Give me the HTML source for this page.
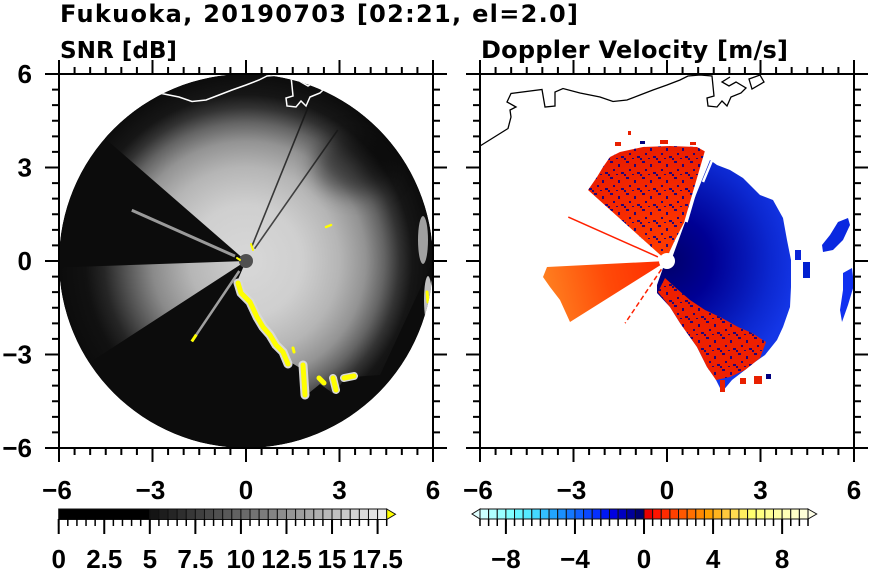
<!DOCTYPE html>
<html><head><meta charset="utf-8"><style>
html,body{margin:0;padding:0;background:#fff;}
svg{display:block;}
text{font-family:"Liberation Sans","DejaVu Sans",sans-serif;font-weight:bold;fill:#000;}
text.t{font-family:"DejaVu Sans","Liberation Sans",sans-serif;}
</style></head><body>
<svg width="870" height="570" viewBox="0 0 870 570" xmlns="http://www.w3.org/2000/svg">
<defs>
<clipPath id="cl"><circle cx="246" cy="261" r="187"/></clipPath>
<clipPath id="cr"><rect x="480" y="74" width="374" height="374"/></clipPath>
<radialGradient id="gb" gradientUnits="userSpaceOnUse" cx="246" cy="261" r="187">
<stop offset="0" stop-color="#d8d8d8"/>
<stop offset="0.3" stop-color="#cfcfcf"/>
<stop offset="0.5" stop-color="#b5b5b5"/>
<stop offset="0.64" stop-color="#939393"/>
<stop offset="0.74" stop-color="#646464"/>
<stop offset="0.82" stop-color="#333"/>
<stop offset="0.89" stop-color="#161616"/>
<stop offset="1" stop-color="#0c0c0c"/>
</radialGradient>
<radialGradient id="gw" gradientUnits="userSpaceOnUse" cx="246" cy="261" r="187">
<stop offset="0" stop-color="#d0d0d0"/>
<stop offset="0.3" stop-color="#b6b6b6"/>
<stop offset="0.5" stop-color="#8a8a8a"/>
<stop offset="0.64" stop-color="#555"/>
<stop offset="0.76" stop-color="#262626"/>
<stop offset="0.86" stop-color="#111"/>
<stop offset="1" stop-color="#0c0c0c"/>
</radialGradient>
<radialGradient id="gblue" gradientUnits="userSpaceOnUse" cx="667" cy="261" r="130">
<stop offset="0" stop-color="#00006a"/>
<stop offset="0.35" stop-color="#000094"/>
<stop offset="0.6" stop-color="#0616b4"/>
<stop offset="0.8" stop-color="#0c28d0"/>
<stop offset="1" stop-color="#1436e6"/>
</radialGradient>
<radialGradient id="gred" gradientUnits="userSpaceOnUse" cx="667" cy="261" r="120">
<stop offset="0" stop-color="#ff4000"/>
<stop offset="0.5" stop-color="#f82c00"/>
<stop offset="1" stop-color="#e81c00"/>
</radialGradient>
<linearGradient id="gor" gradientUnits="userSpaceOnUse" x1="667" y1="261" x2="545" y2="290">
<stop offset="0" stop-color="#ff2a00"/>
<stop offset="0.5" stop-color="#ff4a08"/>
<stop offset="1" stop-color="#ff8020"/>
</linearGradient>
<pattern id="sp" width="16" height="16" patternUnits="userSpaceOnUse">
<rect x="2" y="1" width="3" height="2" fill="#00008a"/>
<rect x="10" y="4" width="2" height="3" fill="#00008a"/>
<rect x="5" y="9" width="2" height="2" fill="#00008a"/>
<rect x="13" y="12" width="3" height="2" fill="#00008a"/>
<rect x="0" y="14" width="2" height="2" fill="#00008a"/>
<rect x="8" y="14" width="2" height="1" fill="#00008a"/>
</pattern>
<filter id="bl" x="-50%" y="-50%" width="200%" height="200%"><feGaussianBlur stdDeviation="10"/></filter>
</defs>

<rect width="870" height="570" fill="#fff"/>

<!-- Titles -->
<text class="t" x="60" y="22" font-size="24" textLength="518" lengthAdjust="spacing">Fukuoka, 20190703 [02:21, el=2.0]</text>
<text class="t" x="60" y="58" font-size="23" textLength="117" lengthAdjust="spacingAndGlyphs">SNR [dB]</text>
<text class="t" x="481" y="58" font-size="24" textLength="307" lengthAdjust="spacing">Doppler Velocity [m/s]</text>

<!-- LEFT PLOT DATA -->
<g clip-path="url(#cl)">
<circle cx="246" cy="261" r="187" fill="#0c0c0c"/>
<path d="M246,261 L236,284 L240,293 L250,302 L257,317 L263,327 L270,335 L280,350 L287,360 L300,368 L304,397 L320,384 L334,394 L345,378 L365,376 L380,375 L433,261 A187,187 0 0 0 104.9,138.3 Z" fill="url(#gb)"/>
<path d="M246,261 L59.1,267.5 A187,187 0 0 0 89.2,362.8 Z" fill="url(#gw)"/>
<ellipse cx="355" cy="165" rx="40" ry="30" fill="#000" opacity="0.45" filter="url(#bl)"/>
<ellipse cx="423" cy="240" rx="5" ry="24" fill="#a0a0a0"/>
<ellipse cx="428" cy="300" rx="4" ry="24" fill="#c0c0c0"/>
<line x1="251.6" y1="247.1" x2="313.4" y2="94.1" stroke="#151515" stroke-width="1.6" opacity="0.8"/>
<line x1="254.6" y1="248.7" x2="337.8" y2="129.9" stroke="#151515" stroke-width="1.6" opacity="0.75"/>
<line x1="235" y1="256.1" x2="131.8" y2="210.2" stroke="#9a9a9a" stroke-width="3"/>
<line x1="239.3" y1="271" x2="191.8" y2="341.4" stroke="#a0a0a0" stroke-width="2.5"/>
<line x1="196.3" y1="334.7" x2="191.8" y2="341.4" stroke="#ffff00" stroke-width="3"/>
<circle cx="246" cy="261" r="7" fill="#505050"/>
<g fill="none" stroke-linecap="round" stroke-linejoin="round">
<polyline points="238,283 241,293 250,302 257,317 263,327 270,335 276,345 283,352 288,364" stroke="#d8d8d8" stroke-width="9"/>
<polyline points="238,283 241,293 250,302 257,317 263,327 270,335 276,345 283,352 288,364" stroke="#ffff00" stroke-width="5"/>
<line x1="303" y1="365" x2="305" y2="395" stroke="#d8d8d8" stroke-width="9"/>
<line x1="303" y1="365" x2="305" y2="395" stroke="#ffff00" stroke-width="5"/>
<line x1="333" y1="378" x2="336" y2="390" stroke="#d8d8d8" stroke-width="8"/>
<line x1="333" y1="378" x2="336" y2="390" stroke="#ffff00" stroke-width="5"/>
<line x1="344" y1="378" x2="354" y2="376" stroke="#d8d8d8" stroke-width="8"/>
<line x1="344" y1="378" x2="354" y2="376" stroke="#ffff00" stroke-width="5"/>
<line x1="319" y1="378" x2="324" y2="383" stroke="#ffff00" stroke-width="5"/>
<line x1="293" y1="348" x2="294" y2="352" stroke="#ffff00" stroke-width="3"/>
<line x1="326" y1="227" x2="331" y2="225" stroke="#ffff00" stroke-width="2.5"/>
<line x1="427" y1="292" x2="428" y2="302" stroke="#ffff00" stroke-width="3"/>
<line x1="251" y1="244" x2="253" y2="250" stroke="#ffff00" stroke-width="2"/>
<line x1="237" y1="258" x2="240" y2="260" stroke="#ffff00" stroke-width="2"/>
</g>
</g>
<!-- left coastline (white) -->
<g clip-path="url(#cl)" fill="none" stroke="#fff" stroke-width="1.5">
<path d="M59,146 L87,128.5 L90,117 L89,110 L95,107 L86,102 L90,93.5 L121,89.5 L124,107 L134,106 L134,92 L142,88.5 L159,93 L179,97 L192,101.5 L206,100 L219,95 L232,90 L246,85 L259,80 L267,76 L279,75 L291,76 L293,96 L286,98 L287,106 L296,107 L301,101 L306,106 L310,97 L320,93 L325,88 L315,82 L308,86 L301,82 L309,77"/>
<path d="M328,79 L339,75 L343,82 L331,89 Z"/>
</g>

<!-- RIGHT PLOT DATA -->
<g clip-path="url(#cr)">
<path d="M672,258 L687,217 L710,160 L717,165 L730,170 L743,178 L760,195 L773,200 L783,218 L787,240 L791,260 L791,287 L790,307 L783,327 L777,340 L765,355 L755,362 L745,370 L732,380 L722,392 L715,378 L707,367 L697,347 L680,323 L670,307 L657,293 L657,285 L663,268 Z" fill="url(#gblue)"/>
<path d="M667,261 L588,190 L597,177 L603,167 L610,157 L620,152 L643,147 L670,146 L697,147 L706,152 L687,217 L675,240 L668,255 Z" fill="url(#gred)"/>
<path d="M667,261 L588,190 L597,177 L603,167 L610,157 L620,152 L643,147 L670,146 L697,147 L706,152 L687,217 L675,240 L668,255 Z" fill="url(#sp)" opacity="0.85"/>
<path d="M658,292 L670,307 L680,323 L697,347 L707,367 L716,380 L730,377 L745,370 L760,358 L766,342 L752,333 L738,327 L722,318 L705,310 L690,300 L676,288 L665,278 Z" fill="#ee2000"/>
<path d="M658,292 L670,307 L680,323 L697,347 L707,367 L716,380 L730,377 L745,370 L760,358 L766,342 L752,333 L738,327 L722,318 L705,310 L690,300 L676,288 L665,278 Z" fill="url(#sp)" opacity="0.85"/>
<path d="M667,261 L547,267 L543,277 L550,287 L560,300 L570,322 Z" fill="url(#gor)"/>
<line x1="657.9" y1="256.9" x2="568.3" y2="217.1" stroke="#ff2000" stroke-width="1.5"/>
<line x1="661.4" y1="269.3" x2="625.1" y2="323.2" stroke="#ff2000" stroke-width="1.5" stroke-dasharray="5 3"/>
<line x1="686" y1="222" x2="707" y2="150" stroke="#fff" stroke-width="3.5"/>
<line x1="703" y1="182" x2="713" y2="158" stroke="#fff" stroke-width="2.5"/>
<rect x="720" y="380" width="5" height="12" fill="#e82000"/>
<rect x="740" y="378" width="6" height="6" fill="#e82000"/>
<rect x="754" y="376" width="8" height="8" fill="#e82000"/>
<rect x="766" y="374" width="5" height="5" fill="#000080"/>
<rect x="615" y="142" width="6" height="4" fill="#e82000"/>
<rect x="640" y="141" width="5" height="3" fill="#000080"/>
<rect x="660" y="140" width="8" height="4" fill="#e82000"/>
<rect x="690" y="142" width="6" height="3" fill="#e82000"/>
<rect x="628" y="131" width="3" height="4" fill="#e82000"/>
<path d="M822,245 L830,235 L838,222 L848,218 L850,225 L843,240 L833,250 L823,252 Z" fill="#0a28e0"/>
<path d="M843,273 L852,268 L854,285 L848,305 L842,322 L840,310 L843,290 Z" fill="#1030f0"/>
<rect x="803" y="262" width="7" height="16" fill="#0020d0"/>
<rect x="795" y="250" width="6" height="10" fill="#0a24d8"/>
<circle cx="667" cy="261" r="8" fill="#fff"/>
</g>
<!-- right coastline -->
<g fill="none" stroke="#000" stroke-width="1.3">
<path d="M480,146 L508,128.5 L511,117 L510,110 L516,107 L507,102 L511,93.5 L542,89.5 L545,107 L555,106 L555,92 L563,88.5 L580,93 L600,97 L613,101.5 L627,100 L640,95 L653,90 L667,85 L680,80 L688,76 L700,75 L712,76 L714,96 L707,98 L708,106 L717,107 L722,101 L727,106 L731,97 L741,93 L746,88 L736,82 L729,86 L722,82 L730,77"/>
<path d="M749,79 L760,75 L764,82 L752,89 Z"/>
</g>

<!-- AXES LEFT -->
<g stroke="#000" fill="none">
<rect x="59" y="74" width="374" height="374" stroke-width="2"/>
<line x1="58" y1="70.5" x2="434" y2="70.5" stroke-width="7" stroke-dasharray="2 13.583"/>
<line x1="58" y1="67" x2="434" y2="67" stroke-width="14" stroke-dasharray="2 91.5"/>
<line x1="58" y1="451.5" x2="434" y2="451.5" stroke-width="7" stroke-dasharray="2 13.583"/>
<line x1="58" y1="455" x2="434" y2="455" stroke-width="14" stroke-dasharray="2 91.5"/>
<line x1="55.5" y1="73" x2="55.5" y2="449" stroke-width="7" stroke-dasharray="2 13.583"/>
<line x1="52" y1="73" x2="52" y2="449" stroke-width="14" stroke-dasharray="2 91.5"/>
<line x1="436.5" y1="73" x2="436.5" y2="449" stroke-width="7" stroke-dasharray="2 13.583"/>
<line x1="440" y1="73" x2="440" y2="449" stroke-width="14" stroke-dasharray="2 91.5"/>
</g>
<!-- AXES RIGHT -->
<g stroke="#000" fill="none">
<rect x="480" y="74" width="374" height="374" stroke-width="2"/>
<line x1="479" y1="70.5" x2="855" y2="70.5" stroke-width="7" stroke-dasharray="2 13.583"/>
<line x1="479" y1="67" x2="855" y2="67" stroke-width="14" stroke-dasharray="2 91.5"/>
<line x1="479" y1="451.5" x2="855" y2="451.5" stroke-width="7" stroke-dasharray="2 13.583"/>
<line x1="479" y1="455" x2="855" y2="455" stroke-width="14" stroke-dasharray="2 91.5"/>
<line x1="476.5" y1="73" x2="476.5" y2="449" stroke-width="7" stroke-dasharray="2 13.583"/>
<line x1="473" y1="73" x2="473" y2="449" stroke-width="14" stroke-dasharray="2 91.5"/>
<line x1="857.5" y1="73" x2="857.5" y2="449" stroke-width="7" stroke-dasharray="2 13.583"/>
<line x1="861" y1="73" x2="861" y2="449" stroke-width="14" stroke-dasharray="2 91.5"/>
</g>

<!-- Y labels -->
<g font-size="26" text-anchor="end">
<text x="32" y="83">6</text>
<text x="32" y="176.5">3</text>
<text x="32" y="270">0</text>
<text x="32" y="363.5">−3</text>
<text x="32" y="457">−6</text>
</g>
<!-- X labels -->
<g font-size="26" text-anchor="middle">
<text x="57" y="499">−6</text>
<text x="150.5" y="499">−3</text>
<text x="246" y="499">0</text>
<text x="339.5" y="499">3</text>
<text x="433" y="499">6</text>
<text x="478" y="499">−6</text>
<text x="571.5" y="499">−3</text>
<text x="667" y="499">0</text>
<text x="760.5" y="499">3</text>
<text x="854" y="499">6</text>
</g>

<!-- LEFT COLORBAR -->
<g stroke="#111" stroke-width="1">
<rect x="58.7" y="509" width="91.11" height="10.5" fill="#000"/>
<rect x="149.81" y="509" width="9.11" height="10.5" fill="#141414"/>
<rect x="158.92" y="509" width="9.11" height="10.5" fill="#1d1d1d"/>
<rect x="168.03" y="509" width="9.11" height="10.5" fill="#252525"/>
<rect x="177.14" y="509" width="9.11" height="10.5" fill="#2e2e2e"/>
<rect x="186.26" y="509" width="9.11" height="10.5" fill="#373737"/>
<rect x="195.37" y="509" width="9.11" height="10.5" fill="#3f3f3f"/>
<rect x="204.48" y="509" width="9.11" height="10.5" fill="#484848"/>
<rect x="213.59" y="509" width="9.11" height="10.5" fill="#505050"/>
<rect x="222.7" y="509" width="9.11" height="10.5" fill="#595959"/>
<rect x="231.81" y="509" width="9.11" height="10.5" fill="#626262"/>
<rect x="240.92" y="509" width="9.11" height="10.5" fill="#6a6a6a"/>
<rect x="250.03" y="509" width="9.11" height="10.5" fill="#737373"/>
<rect x="259.14" y="509" width="9.11" height="10.5" fill="#7c7c7c"/>
<rect x="268.26" y="509" width="9.11" height="10.5" fill="#848484"/>
<rect x="277.37" y="509" width="9.11" height="10.5" fill="#8d8d8d"/>
<rect x="286.48" y="509" width="9.11" height="10.5" fill="#969696"/>
<rect x="295.59" y="509" width="9.11" height="10.5" fill="#9e9e9e"/>
<rect x="304.7" y="509" width="9.11" height="10.5" fill="#a7a7a7"/>
<rect x="313.81" y="509" width="9.11" height="10.5" fill="#afafaf"/>
<rect x="322.92" y="509" width="9.11" height="10.5" fill="#b8b8b8"/>
<rect x="332.03" y="509" width="9.11" height="10.5" fill="#c1c1c1"/>
<rect x="341.14" y="509" width="9.11" height="10.5" fill="#c9c9c9"/>
<rect x="350.26" y="509" width="9.11" height="10.5" fill="#d2d2d2"/>
<rect x="359.37" y="509" width="9.11" height="10.5" fill="#dbdbdb"/>
<rect x="368.48" y="509" width="9.11" height="10.5" fill="#e3e3e3"/>
<rect x="377.59" y="509" width="9.11" height="10.5" fill="#ececec"/>
<polygon points="386.7,509 395.5,514.25 386.7,519.5" fill="#ffff00"/>
</g>
<g stroke="#000" fill="none">
<line x1="57.95" y1="522.5" x2="388" y2="522.5" stroke-width="7" stroke-dasharray="1.5 7.611"/>
<line x1="57.7" y1="526.5" x2="380" y2="526.5" stroke-width="15" stroke-dasharray="2 43.556"/>
</g>
<g font-size="26" text-anchor="middle">
<text x="58.7" y="568">0</text>
<text x="104.3" y="568">2.5</text>
<text x="149.8" y="568">5</text>
<text x="195.4" y="568">7.5</text>
<text x="240.9" y="568">10</text>
<text x="286.5" y="568">12.5</text>
<text x="332" y="568">15</text>
<text x="377.6" y="568">17.5</text>
</g>

<!-- RIGHT COLORBAR -->
<g stroke="#111" stroke-width="1">
<polygon points="480,509 472,514 480,519" fill="#e0ffff"/>
<rect x="480" y="509" width="8.63" height="10" fill="#ccffff"/>
<rect x="488.63" y="509" width="8.63" height="10" fill="#b0ffff"/>
<rect x="497.26" y="509" width="8.63" height="10" fill="#99ffff"/>
<rect x="505.9" y="509" width="8.63" height="10" fill="#80ffff"/>
<rect x="514.53" y="509" width="8.63" height="10" fill="#66f5ff"/>
<rect x="523.16" y="509" width="8.63" height="10" fill="#55eaff"/>
<rect x="531.79" y="509" width="8.63" height="10" fill="#44d8ff"/>
<rect x="540.42" y="509" width="8.63" height="10" fill="#33c0ff"/>
<rect x="549.06" y="509" width="8.63" height="10" fill="#22a5ff"/>
<rect x="557.69" y="509" width="8.63" height="10" fill="#1a90ff"/>
<rect x="566.32" y="509" width="8.63" height="10" fill="#1478ff"/>
<rect x="574.95" y="509" width="8.63" height="10" fill="#0f60ff"/>
<rect x="583.58" y="509" width="8.63" height="10" fill="#0a48ff"/>
<rect x="592.22" y="509" width="8.63" height="10" fill="#0530ff"/>
<rect x="600.85" y="509" width="8.63" height="10" fill="#0018f5"/>
<rect x="609.48" y="509" width="8.63" height="10" fill="#0000e0"/>
<rect x="618.11" y="509" width="8.63" height="10" fill="#0000c0"/>
<rect x="626.74" y="509" width="8.63" height="10" fill="#00009a"/>
<rect x="635.38" y="509" width="8.63" height="10" fill="#000070"/>
<rect x="644.01" y="509" width="8.63" height="10" fill="#e80000"/>
<rect x="652.64" y="509" width="8.63" height="10" fill="#ff1400"/>
<rect x="661.27" y="509" width="8.63" height="10" fill="#ff2a00"/>
<rect x="669.9" y="509" width="8.63" height="10" fill="#ff4000"/>
<rect x="678.54" y="509" width="8.63" height="10" fill="#ff5800"/>
<rect x="687.17" y="509" width="8.63" height="10" fill="#ff7000"/>
<rect x="695.8" y="509" width="8.63" height="10" fill="#ff8800"/>
<rect x="704.43" y="509" width="8.63" height="10" fill="#ffa000"/>
<rect x="713.06" y="509" width="8.63" height="10" fill="#ffb41e"/>
<rect x="721.7" y="509" width="8.63" height="10" fill="#ffc83c"/>
<rect x="730.33" y="509" width="8.63" height="10" fill="#ffdc50"/>
<rect x="738.96" y="509" width="8.63" height="10" fill="#ffef5f"/>
<rect x="747.59" y="509" width="8.63" height="10" fill="#ffff6e"/>
<rect x="756.22" y="509" width="8.63" height="10" fill="#ffff80"/>
<rect x="764.86" y="509" width="8.63" height="10" fill="#ffff92"/>
<rect x="773.49" y="509" width="8.63" height="10" fill="#ffffa4"/>
<rect x="782.12" y="509" width="8.63" height="10" fill="#ffffb6"/>
<rect x="790.75" y="509" width="8.63" height="10" fill="#ffffc8"/>
<rect x="799.38" y="509" width="8.64" height="10" fill="#ffffd8"/>
<polygon points="808.02,509 816.7,514 808.02,519" fill="#ffffe8"/>
</g>
<g stroke="#000" fill="none">
<line x1="479.25" y1="522.5" x2="809" y2="522.5" stroke-width="7" stroke-dasharray="1.5 7.132"/>
<line x1="504.9" y1="526.5" x2="784" y2="526.5" stroke-width="15" stroke-dasharray="2 67.06"/>
</g>
<g font-size="26" text-anchor="middle">
<text x="505.9" y="568">−8</text>
<text x="575" y="568">−4</text>
<text x="644" y="568">0</text>
<text x="713.1" y="568">4</text>
<text x="782.1" y="568">8</text>
</g>
</svg>
</body></html>
